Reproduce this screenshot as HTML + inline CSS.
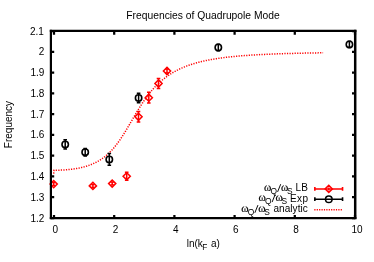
<!DOCTYPE html>
<html><head><meta charset="utf-8"><title>Frequencies of Quadrupole Mode</title>
<style>
html,body{margin:0;padding:0;background:#fff;}
svg{display:block;will-change:transform;}
text{font-family:"Liberation Sans",sans-serif;font-size:10px;fill:#000}
.sym{font-family:"Liberation Serif",serif;font-size:9.4px;stroke:#000;stroke-width:0.15px}
.sub{font-size:8.4px}
</style></head><body>
<svg width="374" height="262" viewBox="0 0 374 262">
<rect width="374" height="262" fill="#fff"/>
<text x="203.0" y="18.5" text-anchor="middle" style="font-size:10.3px">Frequencies of Quadrupole Mode</text>
<text transform="translate(11.8,124.5) rotate(-90)" text-anchor="middle">Frequency</text>
<text x="203.3" y="246.6" text-anchor="middle">ln(k<tspan dx="-0.6" dy="3.6" style="font-size:8.3px">F</tspan><tspan dx="0.8" dy="-3.6"> a)</tspan></text>
<text x="43.9" y="34.50" text-anchor="end">2.1</text>
<text x="44.4" y="55.28" text-anchor="end">2</text>
<text x="44.4" y="76.06" text-anchor="end">1.9</text>
<text x="44.4" y="96.84" text-anchor="end">1.8</text>
<text x="44.4" y="117.62" text-anchor="end">1.7</text>
<text x="44.4" y="138.40" text-anchor="end">1.6</text>
<text x="44.4" y="159.18" text-anchor="end">1.5</text>
<text x="44.4" y="179.96" text-anchor="end">1.4</text>
<text x="44.4" y="200.74" text-anchor="end">1.3</text>
<text x="44.4" y="221.52" text-anchor="end">1.2</text>
<text x="55.30" y="232.5" text-anchor="middle">0</text>
<text x="115.50" y="232.5" text-anchor="middle">2</text>
<text x="175.70" y="232.5" text-anchor="middle">4</text>
<text x="235.90" y="232.5" text-anchor="middle">6</text>
<text x="296.10" y="232.5" text-anchor="middle">8</text>
<text x="357.00" y="232.5" text-anchor="middle">10</text>

<!-- curve -->
<path d="M53.7,173.6 L54.00,170.24 L54.60,170.24 L55.20,170.24 L55.81,170.23 L56.41,170.22 L57.01,170.21 L57.61,170.20 L58.21,170.19 L58.82,170.17 L59.42,170.15 L60.02,170.13 L60.62,170.11 L61.22,170.08 L61.83,170.05 L62.43,170.02 L63.03,169.99 L63.63,169.96 L64.23,169.92 L64.84,169.88 L65.44,169.83 L66.04,169.79 L66.64,169.74 L67.24,169.69 L67.85,169.64 L68.45,169.58 L69.05,169.52 L69.65,169.46 L70.25,169.39 L70.86,169.32 L71.46,169.25 L72.06,169.18 L72.66,169.10 L73.26,169.02 L73.87,168.93 L74.47,168.84 L75.07,168.75 L75.67,168.66 L76.27,168.56 L76.88,168.45 L77.48,168.34 L78.08,168.23 L78.68,168.12 L79.28,168.00 L79.89,167.87 L80.49,167.74 L81.09,167.61 L81.69,167.47 L82.29,167.32 L82.90,167.17 L83.50,167.02 L84.10,166.86 L84.70,166.69 L85.30,166.52 L85.91,166.35 L86.51,166.16 L87.11,165.97 L87.71,165.78 L88.31,165.58 L88.92,165.37 L89.52,165.15 L90.12,164.93 L90.72,164.70 L91.32,164.46 L91.93,164.22 L92.53,163.96 L93.13,163.70 L93.73,163.43 L94.33,163.15 L94.94,162.87 L95.54,162.57 L96.14,162.26 L96.74,161.95 L97.34,161.62 L97.95,161.29 L98.55,160.94 L99.15,160.59 L99.75,160.22 L100.35,159.84 L100.96,159.45 L101.56,159.05 L102.16,158.64 L102.76,158.22 L103.36,157.78 L103.97,157.33 L104.57,156.86 L105.17,156.39 L105.77,155.90 L106.37,155.39 L106.98,154.87 L107.58,154.34 L108.18,153.79 L108.78,153.23 L109.38,152.65 L109.99,152.05 L110.59,151.44 L111.19,150.82 L111.79,150.17 L112.39,149.51 L113.00,148.84 L113.60,148.15 L114.20,147.44 L114.80,146.71 L115.40,145.97 L116.01,145.21 L116.61,144.44 L117.21,143.65 L117.81,142.84 L118.41,142.02 L119.02,141.18 L119.62,140.32 L120.22,139.45 L120.82,138.56 L121.42,137.66 L122.03,136.75 L122.63,135.82 L123.23,134.88 L123.83,133.93 L124.43,132.96 L125.04,131.99 L125.64,131.00 L126.24,130.01 L126.84,129.00 L127.44,127.99 L128.05,126.98 L128.65,125.95 L129.25,124.93 L129.85,123.90 L130.45,122.87 L131.06,121.83 L131.66,120.80 L132.26,119.76 L132.86,118.73 L133.46,117.70 L134.07,116.67 L134.67,115.64 L135.27,114.63 L135.87,113.61 L136.47,112.60 L137.08,111.60 L137.68,110.61 L138.28,109.63 L138.88,108.65 L139.48,107.69 L140.09,106.73 L140.69,105.79 L141.29,104.85 L141.89,103.93 L142.49,103.02 L143.10,102.12 L143.70,101.23 L144.30,100.36 L144.90,99.49 L145.50,98.64 L146.11,97.81 L146.71,96.98 L147.31,96.17 L147.91,95.38 L148.51,94.59 L149.12,93.82 L149.72,93.06 L150.32,92.32 L150.92,91.59 L151.52,90.87 L152.13,90.16 L152.73,89.47 L153.33,88.79 L153.93,88.12 L154.53,87.47 L155.14,86.83 L155.74,86.19 L156.34,85.58 L156.94,84.97 L157.54,84.37 L158.15,83.79 L158.75,83.22 L159.35,82.65 L159.95,82.10 L160.55,81.56 L161.16,81.04 L161.76,80.52 L162.36,80.01 L162.96,79.51 L163.56,79.02 L164.17,78.54 L164.77,78.07 L165.37,77.61 L165.97,77.16 L166.57,76.72 L167.18,76.28 L167.78,75.86 L168.38,75.44 L168.98,75.04 L169.58,74.64 L170.19,74.24 L170.79,73.86 L171.39,73.48 L171.99,73.11 L172.59,72.75 L173.20,72.40 L173.80,72.05 L174.40,71.71 L175.00,71.37 L175.60,71.05 L176.21,70.72 L176.81,70.41 L177.41,70.10 L178.01,69.80 L178.61,69.50 L179.22,69.21 L179.82,68.92 L180.42,68.64 L181.02,68.37 L181.62,68.10 L182.23,67.84 L182.83,67.58 L183.43,67.32 L184.03,67.08 L184.63,66.83 L185.24,66.59 L185.84,66.36 L186.44,66.13 L187.04,65.90 L187.64,65.68 L188.25,65.46 L188.85,65.25 L189.45,65.04 L190.05,64.83 L190.65,64.63 L191.26,64.43 L191.86,64.24 L192.46,64.04 L193.06,63.86 L193.66,63.67 L194.27,63.49 L194.87,63.32 L195.47,63.14 L196.07,62.97 L196.67,62.80 L197.28,62.64 L197.88,62.48 L198.48,62.32 L199.08,62.16 L199.68,62.01 L200.29,61.86 L200.89,61.71 L201.49,61.56 L202.09,61.42 L202.69,61.28 L203.30,61.14 L203.90,61.01 L204.50,60.88 L205.10,60.75 L205.70,60.62 L206.31,60.49 L206.91,60.37 L207.51,60.25 L208.11,60.13 L208.71,60.01 L209.32,59.89 L209.92,59.78 L210.52,59.67 L211.12,59.56 L211.72,59.45 L212.33,59.34 L212.93,59.24 L213.53,59.14 L214.13,59.04 L214.73,58.94 L215.34,58.84 L215.94,58.74 L216.54,58.65 L217.14,58.56 L217.74,58.47 L218.35,58.38 L218.95,58.29 L219.55,58.20 L220.15,58.12 L220.75,58.03 L221.36,57.95 L221.96,57.87 L222.56,57.79 L223.16,57.71 L223.76,57.63 L224.37,57.56 L224.97,57.48 L225.57,57.41 L226.17,57.33 L226.77,57.26 L227.38,57.19 L227.98,57.12 L228.58,57.06 L229.18,56.99 L229.78,56.92 L230.39,56.86 L230.99,56.79 L231.59,56.73 L232.19,56.67 L232.79,56.61 L233.40,56.55 L234.00,56.49 L234.60,56.43 L235.20,56.37 L235.80,56.32 L236.41,56.26 L237.01,56.20 L237.61,56.15 L238.21,56.10 L238.81,56.05 L239.42,55.99 L240.02,55.94 L240.62,55.89 L241.22,55.84 L241.82,55.79 L242.43,55.75 L243.03,55.70 L243.63,55.65 L244.23,55.61 L244.83,55.56 L245.44,55.52 L246.04,55.47 L246.64,55.43 L247.24,55.39 L247.84,55.35 L248.45,55.30 L249.05,55.26 L249.65,55.22 L250.25,55.18 L250.85,55.14 L251.46,55.11 L252.06,55.07 L252.66,55.03 L253.26,54.99 L253.86,54.96 L254.47,54.92 L255.07,54.88 L255.67,54.85 L256.27,54.82 L256.87,54.78 L257.48,54.75 L258.08,54.71 L258.68,54.68 L259.28,54.65 L259.88,54.62 L260.49,54.59 L261.09,54.56 L261.69,54.53 L262.29,54.50 L262.89,54.47 L263.50,54.44 L264.10,54.41 L264.70,54.38 L265.30,54.35 L265.90,54.32 L266.51,54.30 L267.11,54.27 L267.71,54.24 L268.31,54.22 L268.91,54.19 L269.52,54.17 L270.12,54.14 L270.72,54.12 L271.32,54.09 L271.92,54.07 L272.53,54.04 L273.13,54.02 L273.73,54.00 L274.33,53.97 L274.93,53.95 L275.54,53.93 L276.14,53.91 L276.74,53.88 L277.34,53.86 L277.94,53.84 L278.55,53.82 L279.15,53.80 L279.75,53.78 L280.35,53.76 L280.95,53.74 L281.56,53.72 L282.16,53.70 L282.76,53.68 L283.36,53.66 L283.96,53.64 L284.57,53.62 L285.17,53.60 L285.77,53.59 L286.37,53.57 L286.97,53.55 L287.58,53.53 L288.18,53.52 L288.78,53.50 L289.38,53.48 L289.98,53.47 L290.59,53.45 L291.19,53.43 L291.79,53.42 L292.39,53.40 L292.99,53.39 L293.60,53.37 L294.20,53.35 L294.80,53.34 L295.40,53.32 L296.00,53.31 L296.61,53.30 L297.21,53.28 L297.81,53.27 L298.41,53.25 L299.01,53.24 L299.62,53.22 L300.22,53.21 L300.82,53.20 L301.42,53.18 L302.02,53.17 L302.63,53.16 L303.23,53.15 L303.83,53.13 L304.43,53.12 L305.03,53.11 L305.64,53.10 L306.24,53.08 L306.84,53.07 L307.44,53.06 L308.04,53.05 L308.65,53.04 L309.25,53.03 L309.85,53.01 L310.45,53.00 L311.05,52.99 L311.66,52.98 L312.26,52.97 L312.86,52.96 L313.46,52.95 L314.06,52.94 L314.67,52.93 L315.27,52.92 L315.87,52.91 L316.47,52.90 L317.07,52.89 L317.68,52.88 L318.28,52.87 L318.88,52.86 L319.48,52.85 L320.08,52.84 L320.69,52.83 L321.29,52.82 L321.89,52.81 L322.49,52.80 L323.09,52.80" fill="none" stroke="#ff0000" stroke-width="1.5" stroke-dasharray="1.2 1.35"/>
<!-- red -->
<path d="M53.7,182.6V185.6 M51.9,182.6h3.6 M51.9,185.6h3.6 M92.9,184.4V187.4 M91.1,184.4h3.6 M91.1,187.4h3.6 M112.2,182.1V185.1 M110.4,182.1h3.6 M110.4,185.1h3.6 M126.7,172.3V180.3 M124.9,172.3h3.6 M124.9,180.3h3.6 M138.5,111.6V122.0 M136.7,111.6h3.6 M136.7,122.0h3.6 M148.8,92.3V103.1 M147.0,92.3h3.6 M147.0,103.1h3.6 M158.5,78.6V88.4 M156.7,78.6h3.6 M156.7,88.4h3.6 M167.0,69.0V73.0 M165.2,69.0h3.6 M165.2,73.0h3.6" fill="none" stroke="#ff0000" stroke-width="1.5"/>
<path d="M50.1,184.1L53.7,180.5L57.3,184.1L53.7,187.7Z M89.3,185.9L92.9,182.3L96.5,185.9L92.9,189.5Z M108.6,183.6L112.2,180.0L115.8,183.6L112.2,187.2Z M123.1,176.3L126.7,172.7L130.3,176.3L126.7,179.9Z M134.9,116.8L138.5,113.2L142.1,116.8L138.5,120.4Z M145.2,97.7L148.8,94.1L152.4,97.7L148.8,101.3Z M154.9,83.5L158.5,79.9L162.1,83.5L158.5,87.1Z M163.4,71.0L167.0,67.4L170.6,71.0L167.0,74.6Z" fill="none" stroke="#ff0000" stroke-width="1.5"/>
<!-- black -->
<path d="M65.2,139.7V149.1 M63.4,139.7h3.6 M63.4,149.1h3.6 M85.2,148.4V156.0 M83.4,148.4h3.6 M83.4,156.0h3.6 M109.3,153.6V165.2 M107.5,153.6h3.6 M107.5,165.2h3.6 M138.6,93.3V102.7 M136.8,93.3h3.6 M136.8,102.7h3.6 M218.3,44.3V50.7 M216.5,44.3h3.6 M216.5,50.7h3.6 M349.4,41.2V47.6 M347.6,41.2h3.6 M347.6,47.6h3.6" fill="none" stroke="#000" stroke-width="1.5"/>
<g fill="none" stroke="#000" stroke-width="1.6"><circle cx="65.2" cy="144.4" r="3.2"/><circle cx="85.2" cy="152.2" r="3.2"/><circle cx="109.3" cy="159.4" r="3.2"/><circle cx="138.6" cy="98.0" r="3.2"/><circle cx="218.3" cy="47.5" r="3.2"/><circle cx="349.4" cy="44.4" r="3.2"/></g>
<!-- legend -->
<g>
<text class="sym" transform="translate(264.00,190.80) scale(1.19,1)">ω</text><text class="sym" transform="translate(280.90,190.80) scale(1.19,1)">ω</text><text class="sub" x="270.53" y="194.10">Q</text><text class="sub" x="286.93" y="194.10">S</text><path d="M277.60,191.90L280.70,184.20" stroke="#000" stroke-width="0.95" fill="none"/><text x="295.55" y="190.90" style="letter-spacing:0.15px">LB</text>
<text class="sym" transform="translate(258.50,201.00) scale(1.19,1)">ω</text><text class="sym" transform="translate(275.40,201.00) scale(1.19,1)">ω</text><text class="sub" x="265.03" y="204.30">Q</text><text class="sub" x="281.43" y="204.30">S</text><path d="M272.10,202.10L275.20,194.40" stroke="#000" stroke-width="0.95" fill="none"/><text x="289.90" y="201.70" style="letter-spacing:0.45px">Exp</text>
<text class="sym" transform="translate(241.25,211.70) scale(1.19,1)">ω</text><text class="sym" transform="translate(258.15,211.70) scale(1.19,1)">ω</text><text class="sub" x="247.78" y="215.00">Q</text><text class="sub" x="264.18" y="215.00">S</text><path d="M254.85,212.80L257.95,205.10" stroke="#000" stroke-width="0.95" fill="none"/><text x="273.40" y="212.40" style="letter-spacing:0.08px">analytic</text>

<path d="M314.85,188.95H342.55 M314.85,187.1v3.7 M342.55,187.1v3.7" stroke="#ff0000" stroke-width="1.6" fill="none"/>
<path d="M325.2,188.9L328.8,185.3L332.4,188.9L328.8,192.5Z M328.8,187.4v3.1" stroke="#ff0000" stroke-width="1.5" fill="none"/>
<path d="M314.85,199.2H342.55 M314.85,197.35v3.7 M342.55,197.35v3.7" stroke="#000" stroke-width="1.6" fill="none"/>
<circle cx="328.8" cy="199.2" r="3.3" stroke="#000" stroke-width="1.5" fill="none"/>
<path d="M314.3,209.8H342.0" stroke="#ff0000" stroke-width="1.5" stroke-dasharray="1.2 1.2" fill="none"/>
</g>
<!-- frame + ticks -->
<path d="M51,31.00h3.2 M355,31.00h-3.0 M51,51.78h3.2 M355,51.78h-3.0 M51,72.56h3.2 M355,72.56h-3.0 M51,93.34h3.2 M355,93.34h-3.0 M51,114.12h3.2 M355,114.12h-3.0 M51,134.90h3.2 M355,134.90h-3.0 M51,155.68h3.2 M355,155.68h-3.0 M51,176.46h3.2 M355,176.46h-3.0 M51,197.24h3.2 M355,197.24h-3.0 M51,218.02h3.2 M355,218.02h-3.0 M54.00,218v-2.9 M54.00,31v3.7 M114.20,218v-2.9 M114.20,31v3.7 M174.40,218v-2.9 M174.40,31v3.7 M234.60,218v-2.9 M234.60,31v3.7 M294.80,218v-2.9 M294.80,31v3.7 M355.00,218v-2.9 M355.00,31v3.7" stroke="#000" stroke-width="2.25" fill="none"/>
<path d="M50.9,29.8V219.1" stroke="#000" stroke-width="2.2" fill="none"/><path d="M49.8,30.93H356.4" stroke="#000" stroke-width="2.25" fill="none"/><path d="M355.2,29.8V219.1" stroke="#000" stroke-width="2.5" fill="none"/><path d="M49.8,218.05H356.4" stroke="#000" stroke-width="2.15" fill="none"/>
</svg>
</body></html>
